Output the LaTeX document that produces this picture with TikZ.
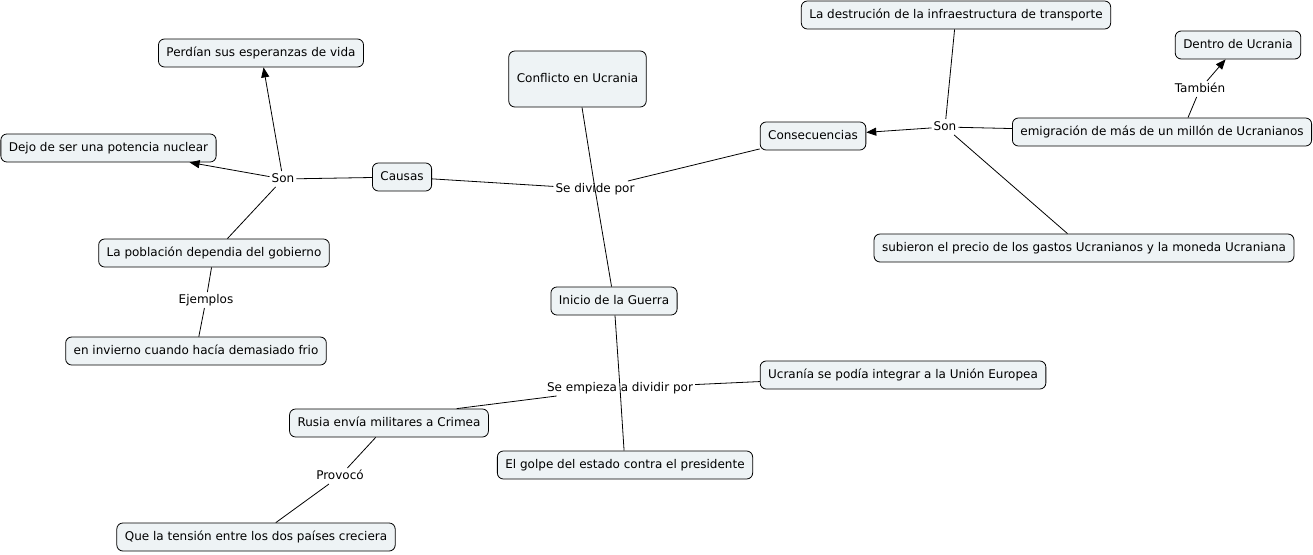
\documentclass[tikz,border=0pt]{standalone}
\usepackage{fontspec}
\setmainfont{DejaVu Sans}
\usetikzlibrary{arrows.meta}
\definecolor{boxfill}{RGB}{238,243,245}

\begin{document}
\begin{tikzpicture}[x=1pt, y=-1pt,
    concept/.style={draw, line width=0.8pt, rounded corners=6pt, fill=boxfill,
                    align=center, font=\fontsize{12}{14}\selectfont,
                    inner xsep=8pt, inner ysep=0pt, text height=9pt,
                    text depth=2.6pt, minimum height=28pt},
    phrase/.style={font=\fontsize{12}{14}\selectfont, inner sep=2pt,
                   text height=9pt, text depth=2.6pt},
    ln/.style={line width=0.8pt},
    ar/.style={-{Triangle[length=10pt, width=8pt]}, line width=0.8pt}
  ]
  \useasboundingbox (0,0) rectangle (1313,554);

  % concepts
  \node[concept, minimum height=56pt] (conf) at (577.5,79) {Conflicto en Ucrania};
  \node[concept] (causas) at (402,177) {Causas};
  \node[concept] (consec) at (813,136) {Consecuencias};
  \node[concept] (inicio) at (614,301) {Inicio de la Guerra};

  \node[concept] (perdian) at (261,53) {Perdían sus esperanzas de vida};
  \node[concept] (dejo) at (108.5,148) {Dejo de ser una potencia nuclear};
  \node[concept] (poblacion) at (214,253) {La población dependia del gobierno};
  \node[concept] (invierno) at (196,351) {en invierno cuando hacía demasiado frio};

  \node[concept] (ucrania) at (903,375) {Ucranía se podía integrar a la Unión Europea};
  \node[concept] (rusia) at (389,423) {Rusia envía militares a Crimea};
  \node[concept] (golpe) at (625,465) {El golpe del estado contra el presidente};
  \node[concept] (tension) at (256,537) {Que la tensión entre los dos países creciera};

  \node[concept] (destrucion) at (956,15) {La destrución de la infraestructura de transporte};
  \node[concept] (dentro) at (1238,45) {Dentro de Ucrania};
  \node[concept] (emigracion) at (1162,132) {emigración de más de un millón de Ucranianos};
  \node[concept] (subieron) at (1084,248) {subieron el precio de los gastos Ucranianos y la moneda Ucraniana};

  % linking phrases
  \node[phrase] (divide) at (595,189) {Se divide por};
  \node[phrase] (sonA) at (283,179) {Son};
  \node[phrase] (ejemplos) at (206,300) {Ejemplos};
  \node[phrase] (empieza) at (620,388) {Se empieza a dividir por};
  \node[phrase] (provoco) at (340,476) {Provocó};
  \node[phrase] (sonB) at (945,127) {Son};
  \node[phrase] (tambien) at (1200,89) {También};

  % connectors
  \draw[ln] (conf) -- (divide.center) -- (inicio);
  \draw[ln] (divide) -- (causas);
  \draw[ln] (divide) -- (consec);

  \draw[ln] (causas) -- (sonA);
  \draw[ar] (sonA) -- (perdian);
  \draw[ar] (sonA) -- (dejo);
  \draw[ln] (sonA) -- (poblacion);
  \draw[ln] (poblacion) -- (ejemplos) -- (invierno);

  \draw[ln] (inicio) -- (empieza.center) -- (golpe);
  \draw[ln] (empieza) -- (ucrania);
  \draw[ln] (empieza) -- (rusia.12);
  \draw[ln] (rusia) -- (provoco) -- (tension);

  \draw[ar] (sonB) -- (consec);
  \draw[ln] (sonB) -- (destrucion);
  \draw[ln] (sonB) -- (emigracion);
  \draw[ln] (sonB) -- (subieron);
  \draw[ln] (emigracion.29) -- (tambien);
  \draw[ar] (tambien) -- (dentro);
\end{tikzpicture}
\end{document}
